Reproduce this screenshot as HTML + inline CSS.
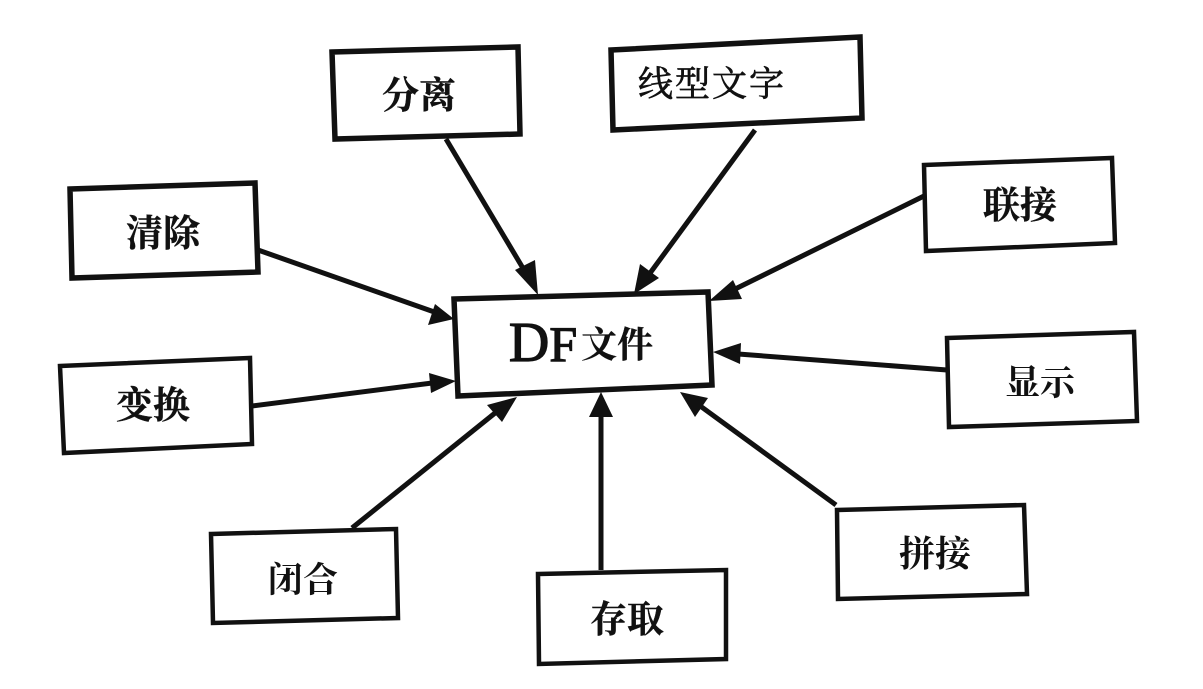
<!DOCTYPE html>
<html><head><meta charset="utf-8"><style>
html,body{margin:0;padding:0;background:#fff;width:1203px;height:689px;overflow:hidden}
svg{display:block}
text{font-family:"Liberation Serif","Noto Serif CJK SC",serif;fill:#111;text-anchor:middle}
.b{fill:#fff;stroke:#111;stroke-width:5.5;stroke-linejoin:miter}
.t{stroke-width:4.5}
.l{stroke:#111;stroke-width:5;fill:none}
.h{fill:#111}
.k{font-size:37px;font-weight:700;stroke:#111;stroke-width:.4}
</style></head><body>
<svg width="1203" height="689" viewBox="0 0 1203 689" xmlns="http://www.w3.org/2000/svg">
<rect width="1203" height="689" fill="#fff"/>
<g class="l">
<line x1="446" y1="139" x2="530" y2="280"/>
<line x1="755" y1="130" x2="645" y2="280"/>
<line x1="924" y1="196" x2="725" y2="294"/>
<line x1="947" y1="370" x2="725" y2="353"/>
<line x1="836" y1="505" x2="692" y2="400"/>
<line x1="601" y1="570" x2="601" y2="405"/>
<line x1="352" y1="528" x2="505" y2="405"/>
<line x1="252" y1="406" x2="440" y2="382"/>
<line x1="258" y1="250" x2="440" y2="314"/>
</g>
<g class="h">
<polygon points="538,295 515,270 535,260"/>
<polygon points="634,294 640,264 659,278"/>
<polygon points="709,301 733,280 742,299"/>
<polygon points="713,352 741,343 740,364"/>
<polygon points="680,392 708,398 695,417"/>
<polygon points="601,392 613,417 589,417"/>
<polygon points="517,397 502,422 487,405"/>
<polygon points="456,381 431,393 429,373"/>
<polygon points="454,319 428,325 435,304"/>
</g>
<g class="b">
<polygon points="332,52 518,47 520,134 335,139"/>
<polygon points="611,50 860,37 862,118 613,130"/>
<polygon points="70,189 255,183 258,272 72,278"/>
<polygon points="924,165 1112,158 1115,243 926,251" class="t"/>
<polygon points="454,299 708,292 712,385 458,396"/>
<polygon points="947,338 1134,332 1137,421 949,427" class="t"/>
<polygon points="60,366 250,358 252,444 64,453" class="t"/>
<polygon points="211,534 396,529 398,618 213,623" class="t"/>
<polygon points="538,574 726,570 726,659 539,664" class="t"/>
<polygon points="837,510 1024,505 1027,594 838,599" class="t"/>
</g>
<text class="k" x="419" y="108">分离</text>
<text x="712" y="96" font-size="35" letter-spacing="2" stroke="#111" stroke-width=".7">线型文字</text>
<text class="k" x="163" y="246">清除</text>
<text class="k" x="1020" y="218">联接</text>
<text x="1040" y="395" font-size="35" font-weight="700">显示</text>
<text class="k" x="153" y="418">变换</text>
<text x="303" y="592" font-size="35" font-weight="700">闭合</text>
<text class="k" x="627" y="632">存取</text>
<text x="935" y="566" font-size="36" font-weight="700">拼接</text>
<text x="581" y="361" font-size="56" stroke="#111" stroke-width="1.2">D<tspan font-size="50">F</tspan><tspan font-size="36" font-weight="700" dx="4" dy="-4" stroke-width=".3">文件</tspan></text>
</svg>
</body></html>
